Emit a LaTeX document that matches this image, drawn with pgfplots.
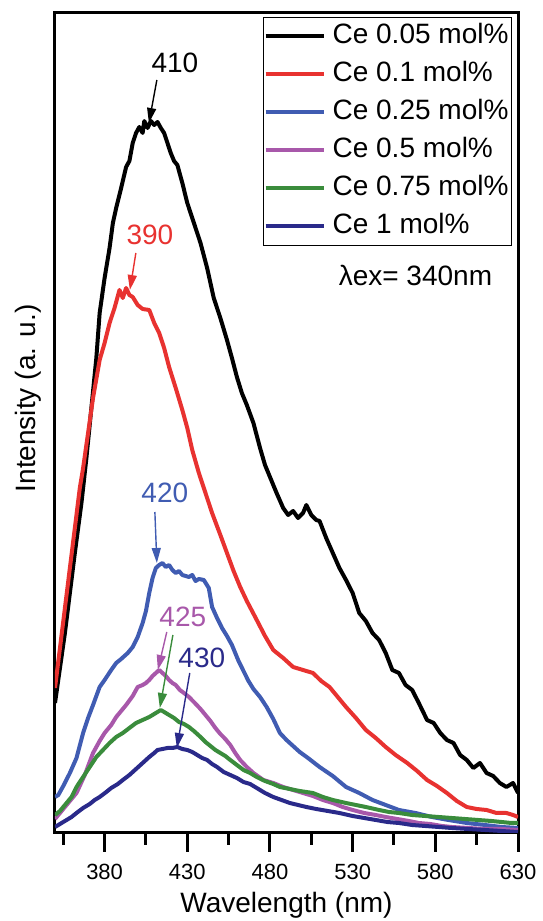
\documentclass[border=0pt]{standalone}
\usepackage{fontspec}
\setmainfont{Liberation Sans}
\usepackage{pgfplots}
\pgfplotsset{compat=1.18}
\usetikzlibrary{arrows.meta}
\definecolor{cred}{RGB}{232,50,48}
\definecolor{cblue}{RGB}{64,92,178}
\definecolor{cmag}{RGB}{168,88,170}
\definecolor{cgreen}{RGB}{58,140,60}
\definecolor{cnavy}{RGB}{42,42,138}
\begin{document}
\begin{tikzpicture}
\useasboundingbox (0,0) rectangle (271pt,460.5pt);
\begin{axis}[
  at={(27.5pt,44pt)}, anchor=south west,
  width=231.5pt, height=410pt, scale only axis,
  xmin=350, xmax=630, ymin=0, ymax=820,
  axis line style={line width=1.5pt},
  every tick/.style={line width=1.5pt, black},
  tick align=outside,
  xtick={380,430,480,530,580,630},
  minor xtick={355,405,455,505,555,605},
  major tick length=9.5pt, minor tick length=6pt,
  ytick=\empty,
  xtick pos=bottom,
  /pgf/number format/assume math mode=true,
  xticklabel style={font=\fontsize{11}{13}\selectfont, yshift=-2.5pt},
  xlabel={Wavelength (nm)},
  ylabel={Intensity (a. u.)},
  label style={font=\fontsize{14}{17}\selectfont},
  xlabel style={at={(axis description cs:0.5,0)}, anchor=base, yshift=-39.5pt},
  ylabel style={at={(axis description cs:-0.0583,0.53)}, anchor=center},
  legend style={at={(axis description cs:1,1)}, anchor=north east, xshift=-3pt, yshift=-2pt,
    draw=black, line width=0.5pt, inner sep=0pt,
    font=\fontsize{14}{17}\selectfont,
    nodes={inner xsep=1.5pt, inner ysep=3pt, text height=10pt, text depth=3pt},
    column sep=2pt},
  legend cell align=left,
  legend image code/.code={\draw[#1, line width=2pt] (0pt,0pt) -- (29pt,0pt);},
  every axis plot/.append style={line width=2pt, line join=round},
]
\addplot[black] coordinates {
(350,130)(353,165)(356,200)(359,240)(362,280)(366,330)(369,375)(372,425)(375,475)(377,520)
(380,555)(383,585)(385,610)(387,625)(390,645)(393,666)(395,672)(397,690)(399,700)(401,706)
(403,700)(404,712)(406,705)(408,712)(410,708)(412,711)(414,705)(416,700)(418,690)(420,680)
(422,672)(424,668)(427,650)(430,630)(434,610)(438,590)(442,565)(446,535)(450,515)(454,493)
(457,475)(460,456)(463,440)(466,428)(470,410)(474,385)(477,368)(481,352)(484,340)(488,325)
(491,318)(494,322)(497,315)(500,320)(502,328)(505,318)(508,313)(510,312)(514,295)(518,280)
(522,265)(526,253)(530,240)(534,220)(538,212)(542,200)(546,193)(550,180)(554,163)(558,160)
(562,148)(566,143)(570,130)(575,113)(579,110)(583,100)(587,93)(591,90)(595,78)(599,73)
(603,65)(607,70)(611,60)(615,57)(619,50)(623,46)(627,50)(630,40)};
\addlegendentry{Ce 0.05 mol\%}
\addplot[cred] coordinates {
(350,145)(353,185)(356,225)(359,265)(362,305)(365,345)(367,365)(370,400)(373,435)(377,473)
(380,490)(383,510)(386,525)(389,543)(391,535)(393,545)(395,538)(397,536)(400,528)(403,524)
(407,523)(410,510)(413,500)(416,485)(419,466)(423,445)(427,423)(430,405)(433,383)(437,360)
(441,340)(445,320)(450,298)(454,280)(458,262)(462,246)(466,232)(472,213)(477,197)(482,183)
(488,175)(494,166)(500,163)(506,160)(511,152)(516,146)(521,136)(526,126)(532,115)(538,103)
(544,95)(550,86)(556,78)(563,70)(569,62)(575,53)(581,47)(587,40)(593,32)(599,26)
(605,24)(611,23)(617,20)(623,20)(627,18)(630,16)};
\addlegendentry{Ce 0.1 mol\%}
\addplot[cblue] coordinates {
(350,36)(352,38)(355,47)(359,60)(363,75)(367,100)(370,115)(373,128)(377,146)(380,153)
(384,163)(387,170)(390,174)(394,180)(397,186)(400,196)(403,210)(405,222)(407,240)(409,255)
(411,265)(413,268)(415,270)(417,266)(419,268)(421,263)(423,260)(425,262)(427,258)(429,257)
(431,256)(433,258)(435,252)(437,254)(440,253)(443,245)(445,226)(448,215)(451,205)(454,197)
(457,188)(461,172)(464,162)(467,152)(470,144)(474,136)(478,126)(482,114)(486,100)(490,93)
(494,87)(498,81)(503,75)(510,66)(518,57)(526,46)(534,40)(542,33)(550,28)(558,23)
(568,20)(578,16)(588,13)(599,10)(610,8)(620,6)(630,5)};
\addlegendentry{Ce 0.25 mol\%}
\addplot[cmag] coordinates {
(350,14)(353,20)(356,26)(360,34)(363,40)(368,58)(373,80)(377,92)(380,100)(384,108)
(387,116)(390,122)(393,128)(397,137)(400,146)(403,148)(405,150)(407,153)(409,157)(411,160)
(413,163)(415,160)(417,157)(419,153)(421,150)(423,148)(425.5,143)(428,140)(431,136)(434,131)
(438,124)(441,118)(444,112)(447,105)(450,99)(453,94)(456,88)(459,80)(462,73)(466,66)
(470,60)(476,53)(482,50)(488,46)(494,43)(500,40)(506,37)(512,33)(518,30)(524,26)
(530,23)(537,20)(544,18)(550,16)(557,14)(564,12)(570,10)(577,9)(584,7)(590,6)
(600,5)(610,4)(620,4)(630,3)};
\addlegendentry{Ce 0.5 mol\%}
\addplot[cgreen] coordinates {
(350,18)(353,22)(357,30)(360,36)(363,46)(367,56)(371,66)(375,76)(379,83)(383,90)
(387,96)(391,100)(395,105)(399,110)(403,113)(407,116)(411,120)(414,123)(416,121)(419,118)
(422,115)(425,111)(428,109)(431,106)(434,102)(438,96)(441,91)(444,87)(447,83)(450,80)
(453,77)(456,73)(460,68)(464,63)(468,60)(472,56)(477,52)(482,49)(486,46)(492,44)
(498,42)(506,40)(512,36)(518,33)(526,30)(532,28)(538,26)(546,23)(552,21)(558,20)
(566,18)(574,17)(582,16)(590,15)(598,14)(606,13)(614,12)(620,11)(626,10)(630,10)};
\addlegendentry{Ce 0.75 mol\%}
\addplot[cnavy] coordinates {
(350,6)(353,9)(357,13)(360,16)(363,20)(367,25)(371,29)(374,33)(377,36)(381,41)
(384,45)(388,49)(391,53)(395,58)(399,64)(403,70)(407,76)(410,80)(412,83)(415,84)
(418,85)(421,85)(424,86)(427,84)(430,83)(433,81)(436,78)(439,75)(442,73)(445,69)
(448,66)(452,61)(456,58)(460,55)(464,51)(468,49)(472,45)(477,40)(482,36)(487,33)
(492,30)(497,28)(502,26)(508,24)(515,22)(522,20)(530,17)(537,15)(544,13)(551,11)
(558,10)(566,8)(574,7)(582,6)(590,5)(600,4)(610,3)(620,2)(630,1)};
\addlegendentry{Ce 1 mol\%}
% annotations
\begin{scope}[every node/.style={font=\fontsize{14}{17}\selectfont}, arr/.style={line width=0.7pt, -{Triangle[length=7.5pt,width=4.5pt]}}]
\node[black] at (axis cs:422.5,770) {410};
\draw[arr, black] (axis cs:411.6,753) -- (axis cs:406.8,710);
\node[cred] at (axis cs:407.4,598) {390};
\draw[arr, cred] (axis cs:398.9,580) -- (axis cs:395.3,543);
\node[cblue] at (axis cs:416.4,340) {420};
\draw[arr, cblue] (axis cs:410.4,321) -- (axis cs:411.6,270);
\node[cmag] at (axis cs:427.3,216) {425};
\draw[arr, cmag] (axis cs:417.6,201) -- (axis cs:412.2,163);
\draw[arr, cgreen] (axis cs:421.3,198) -- (axis cs:413.4,125);
\node[cnavy] at (axis cs:438.8,175) {430};
\draw[arr, cnavy] (axis cs:431.5,160) -- (axis cs:423.7,85);
\node[black] at (axis cs:568,558) {λex= 340nm};
\end{scope}
\end{axis}
\end{tikzpicture}
\end{document}
